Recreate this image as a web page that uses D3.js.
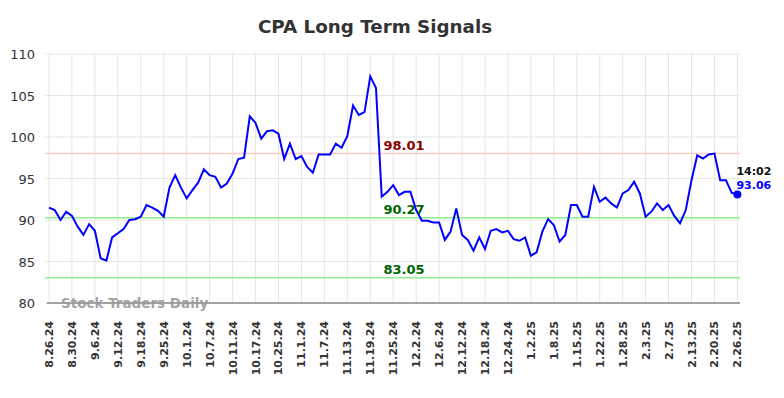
<!DOCTYPE html>
<html><head><meta charset="utf-8">
<script src="https://cdn.jsdelivr.net/npm/d3@7"></script>
<style>body{margin:0;background:#fff;} svg{display:block;}</style>
</head><body>
<svg id="c" width="784" height="398"></svg>
<script>
const tickLabels = ["8.26.24","8.30.24","9.6.24","9.12.24","9.18.24","9.25.24","10.1.24","10.7.24","10.11.24","10.17.24","10.25.24","11.1.24","11.7.24","11.13.24","11.19.24","11.25.24","12.2.24","12.6.24","12.12.24","12.18.24","12.24.24","1.2.25","1.8.25","1.15.25","1.22.25","1.28.25","2.3.25","2.7.25","2.13.25","2.20.25","2.26.25"];
const prices = [91.5,91.2,90.0,91.0,90.5,89.2,88.2,89.5,88.7,85.4,85.1,87.9,88.4,88.9,90.0,90.1,90.4,91.8,91.5,91.1,
90.4,93.9,95.4,93.9,92.6,93.6,94.5,96.1,95.4,95.2,93.9,94.4,95.6,97.35,97.5,102.5,101.7,99.8,100.7,100.8,
100.4,97.35,99.2,97.35,97.7,96.4,95.7,97.9,97.9,97.9,99.2,98.7,100.1,103.8,102.65,103.0,107.3,105.9,92.8,93.4,
94.2,93.0,93.4,93.4,91.2,89.9,89.9,89.7,89.7,87.6,88.6,91.4,88.2,87.6,86.3,87.9,86.5,88.7,88.9,88.5,
88.7,87.7,87.5,87.9,85.7,86.1,88.6,90.1,89.4,87.4,88.2,91.8,91.8,90.4,90.4,94.0,92.2,92.7,92.0,91.5,
93.2,93.6,94.6,93.2,90.4,91.0,92.0,91.2,91.8,90.5,89.6,91.2,94.8,97.8,97.4,97.9,98.0,94.8,94.8,93.3,93.06];
const yTicks = [80,85,90,95,100,105,110];
const resistance = 98.01;
const supports = [90.27, 83.05];
const lastTime = "14:02";

const svg = d3.select("#c");
const x = d3.scaleLinear().domain([0, prices.length - 1]).range([49, 737.4]);
const y = d3.scaleLinear().domain([80, 110]).range([303, 54]);

svg.append("text").attr("x", 375).attr("y", 33).attr("text-anchor", "middle")
  .attr("font-family", "DejaVu Sans, sans-serif").attr("font-weight", "bold").attr("font-size", 18.3)
  .attr("fill", "#333").text("CPA Long Term Signals");

// horizontal grid
svg.append("g").selectAll("line").data(yTicks).join("line")
  .attr("x1", 45).attr("x2", 740).attr("y1", d => y(d)).attr("y2", d => y(d))
  .attr("stroke", "#e6e6e6").attr("stroke-width", 1);
// vertical grid
const tickIdx = tickLabels.map((d, i) => i * 4);
svg.append("g").selectAll("line").data(tickIdx).join("line")
  .attr("x1", d => x(d)).attr("x2", d => x(d)).attr("y1", 54).attr("y2", 303)
  .attr("stroke", "#e6e6e6").attr("stroke-width", 1);

// y labels
svg.append("g").selectAll("text").data(yTicks).join("text")
  .attr("x", 35).attr("y", d => y(d) + 5).attr("text-anchor", "end")
  .attr("font-family", "DejaVu Sans, sans-serif").attr("font-size", 13).attr("fill", "#333")
  .text(d => d);

// x axis line
svg.append("line").attr("x1", 47).attr("x2", 740).attr("y1", 303).attr("y2", 303)
  .attr("stroke", "#555").attr("stroke-width", 1.2);

// x labels
svg.append("g").selectAll("text").data(tickLabels).join("text")
  .attr("transform", (d, i) => `translate(${x(i * 4) + 4},321) rotate(-90)`)
  .attr("text-anchor", "end")
  .attr("font-family", "DejaVu Sans, sans-serif").attr("font-weight", "bold").attr("font-size", 11)
  .attr("fill", "#333").text(d => d);

// level lines
svg.append("line").attr("x1", 45).attr("x2", 740).attr("y1", y(resistance)).attr("y2", y(resistance))
  .attr("stroke", "#ffcccc").attr("stroke-width", 1.5);
svg.append("g").selectAll("line").data(supports).join("line")
  .attr("x1", 45).attr("x2", 740).attr("y1", d => y(d)).attr("y2", d => y(d))
  .attr("stroke", "#90ee90").attr("stroke-width", 1.5);

// watermark
svg.append("text").attr("x", 61).attr("y", 308)
  .attr("font-family", "DejaVu Sans, sans-serif").attr("font-weight", "bold").attr("font-size", 13.5)
  .attr("fill", "#999").attr("fill-opacity", 0.9).text("Stock Traders Daily");

// price line
svg.append("path").datum(prices)
  .attr("d", d3.line().x((d, i) => x(i)).y(d => y(d)))
  .attr("fill", "none").attr("stroke", "#0000ff").attr("stroke-width", 2);

// level labels
svg.append("text").attr("x", 404).attr("y", y(resistance) - 4).attr("text-anchor", "middle")
  .attr("font-family", "DejaVu Sans, sans-serif").attr("font-weight", "bold").attr("font-size", 13)
  .attr("fill", "#8b0000").text(resistance.toFixed(2));
svg.append("g").selectAll("text").data(supports).join("text")
  .attr("x", 404).attr("y", d => y(d) - 4).attr("text-anchor", "middle")
  .attr("font-family", "DejaVu Sans, sans-serif").attr("font-weight", "bold").attr("font-size", 13)
  .attr("fill", "#006400").text(d => d.toFixed(2));

// last point
const li = prices.length - 1;
svg.append("circle").attr("cx", x(li)).attr("cy", y(prices[li])).attr("r", 4).attr("fill", "#0000ff");
svg.append("text").attr("x", x(li) - 1).attr("y", y(prices[li]) - 20)
  .attr("font-family", "DejaVu Sans, sans-serif").attr("font-weight", "bold").attr("font-size", 11)
  .attr("fill", "#111").text(lastTime);
svg.append("text").attr("x", x(li) - 1).attr("y", y(prices[li]) - 6)
  .attr("font-family", "DejaVu Sans, sans-serif").attr("font-weight", "bold").attr("font-size", 11)
  .attr("fill", "#0000ff").text(prices[li].toFixed(2));
</script>
</body></html>
